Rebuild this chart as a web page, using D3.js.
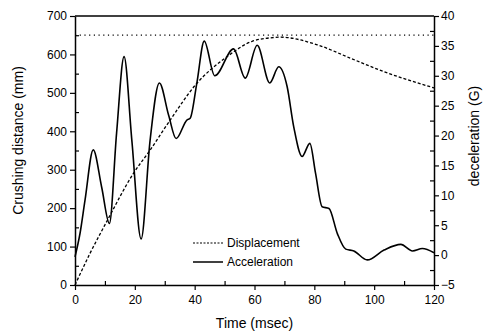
<!DOCTYPE html>
<html>
<head>
<meta charset="utf-8">
<script src="https://cdn.jsdelivr.net/npm/d3@7"></script>
<style>
  body { margin: 0; background: #fff; }
  svg { font-family: "Liberation Sans", Arial, sans-serif; }
</style>
</head>
<body>
<div id="chart"></div>
<script>
// time (msec) / crushing distance (mm)
const dispTime = [0, 5, 10.6, 19.5, 25.1, 31.8, 40.2, 50.8, 59.2, 66.4, 68.5, 81, 92.1, 103.3, 120];
const dispValue = [0, 82, 165, 290, 351, 429, 520, 594, 634, 644, 645, 625, 590, 555, 513];

// time (msec) / deceleration (G)
const accTime = [0, 1.7, 3.35, 6.1, 8.9, 11.5, 13.9, 16.4, 19.0, 22.1, 25.1, 28.2, 31.3, 33.8, 37.4, 38.5,
  40.7, 43.2, 46.7, 53, 56.9, 60.9, 65.1, 68.1, 70.9, 73.1, 75.9, 78.5, 80.4, 82.6, 84.9, 87.7,
  90.5, 93.2, 97.7, 103.3, 108.9, 112.8, 116.1, 120];
const accValue = [-0.3, 3.7, 9.2, 17.6, 11.4, 5.3, 20.4, 33.2, 19.2, 2.7, 19.2, 28.8, 23.4, 19.5, 22.6, 22.9,
  28.7, 35.8, 30, 34.5, 29.6, 35.1, 28.8, 31.5, 28.2, 21.5, 16.5, 18.7, 13.7, 8.1, 7.8, 3.6,
  1.0, 0.7, -0.8, 0.85, 1.8, 0.7, 1.1, 0.4];

const crushLimit = 650;

const xTicks = [0, 20, 40, 60, 80, 100, 120];
const yLeftTicks = [0, 100, 200, 300, 400, 500, 600, 700];
const yRightTicks = [-5, 0, 5, 10, 15, 20, 25, 30, 35, 40];

const width = 499, height = 335;
const margin = { top: 16, right: 65, bottom: 50, left: 75 };

const svg = d3.select("#chart").append("svg")
  .attr("width", width)
  .attr("height", height);

const x = d3.scaleLinear().domain([0, 120]).range([margin.left, width - margin.right]);
const yL = d3.scaleLinear().domain([0, 700]).range([height - margin.bottom, margin.top]);
const yR = d3.scaleLinear().domain([-5, 40]).range([height - margin.bottom, margin.top]);

// minor ticks point inward
svg.append("g")
  .attr("transform", `translate(0,${height - margin.bottom})`)
  .call(d3.axisTop(x).tickValues(d3.range(10, 120, 20)).tickSize(4).tickFormat(""))
  .call(g => g.select(".domain").remove());
svg.append("g")
  .attr("transform", `translate(${margin.left},0)`)
  .call(d3.axisRight(yL).tickValues(d3.range(50, 700, 100)).tickSize(4).tickFormat(""))
  .call(g => g.select(".domain").remove());
svg.append("g")
  .attr("transform", `translate(${width - margin.right},0)`)
  .call(d3.axisLeft(yR).tickValues(d3.range(-2.5, 40, 5)).tickSize(4).tickFormat(""))
  .call(g => g.select(".domain").remove());

// main axes
const xAxis = svg.append("g")
  .attr("transform", `translate(0,${height - margin.bottom})`)
  .call(d3.axisBottom(x).tickValues(xTicks).tickSize(5).tickPadding(5).tickSizeOuter(0));
const yAxisL = svg.append("g")
  .attr("transform", `translate(${margin.left},0)`)
  .call(d3.axisLeft(yL).tickValues(yLeftTicks).tickSize(5).tickPadding(3).tickSizeOuter(0));
const yAxisR = svg.append("g")
  .attr("transform", `translate(${width - margin.right},0)`)
  .call(d3.axisRight(yR).tickValues(yRightTicks).tickSize(5).tickPadding(2).tickSizeOuter(0));

svg.append("line")
  .attr("x1", margin.left).attr("x2", width - margin.right)
  .attr("y1", margin.top).attr("y2", margin.top)
  .attr("stroke", "#000").attr("stroke-width", 1.5);

[xAxis, yAxisL, yAxisR].forEach(g => {
  g.selectAll("text").style("font-size", "12px").attr("fill", "#000");
  g.select(".domain").attr("stroke-width", 1.5);
});
svg.selectAll(".tick line").attr("stroke-width", 1.2);

// axis titles
svg.append("text")
  .attr("x", x(60)).attr("y", 328)
  .attr("text-anchor", "middle")
  .style("font-size", "14px")
  .text("Time (msec)");
svg.append("text")
  .attr("transform", `translate(23,${(margin.top + height - margin.bottom) / 2 - 10}) rotate(-90)`)
  .attr("text-anchor", "middle")
  .style("font-size", "14px")
  .text("Crushing distance (mm)");
svg.append("text")
  .attr("transform", `translate(479,136) rotate(-90)`)
  .attr("text-anchor", "middle")
  .style("font-size", "14px")
  .text("deceleration (G)");

// horizontal limit line
svg.append("line")
  .attr("x1", x(0)).attr("x2", x(120))
  .attr("y1", yL(crushLimit)).attr("y2", yL(crushLimit))
  .attr("stroke", "#000").attr("stroke-width", 1.2)
  .attr("stroke-dasharray", "1.2,3.5");

// displacement
const dispData = dispTime.map((t, i) => ({ t, v: dispValue[i] }));
svg.append("path")
  .datum(dispData)
  .attr("fill", "none")
  .attr("stroke", "#000")
  .attr("stroke-width", 1.3)
  .attr("stroke-dasharray", "3,2")
  .attr("d", d3.line().x(d => x(d.t)).y(d => yL(d.v)).curve(d3.curveMonotoneX));

// acceleration
const accData = accTime.map((t, i) => ({ t, v: accValue[i] }));
svg.append("path")
  .datum(accData)
  .attr("fill", "none")
  .attr("stroke", "#000")
  .attr("stroke-width", 1.6)
  .attr("d", d3.line().x(d => x(d.t)).y(d => yR(d.v)).curve(d3.curveMonotoneX));

// legend
const legend = svg.append("g").attr("transform", "translate(193,243)");
const items = [
  { name: "Displacement", dash: "2,1.5", w: 1.1 },
  { name: "Acceleration", dash: null, w: 1.5 }
];
legend.selectAll("line")
  .data(items)
  .join("line")
  .attr("x1", 0).attr("x2", 30)
  .attr("y1", (d, i) => i * 19).attr("y2", (d, i) => i * 19)
  .attr("stroke", "#000")
  .attr("stroke-width", d => d.w)
  .attr("stroke-dasharray", d => d.dash);
legend.selectAll("text")
  .data(items)
  .join("text")
  .attr("x", 34)
  .attr("y", (d, i) => i * 19 + 4)
  .style("font-size", "12px")
  .text(d => d.name);
</script>
</body>
</html>
